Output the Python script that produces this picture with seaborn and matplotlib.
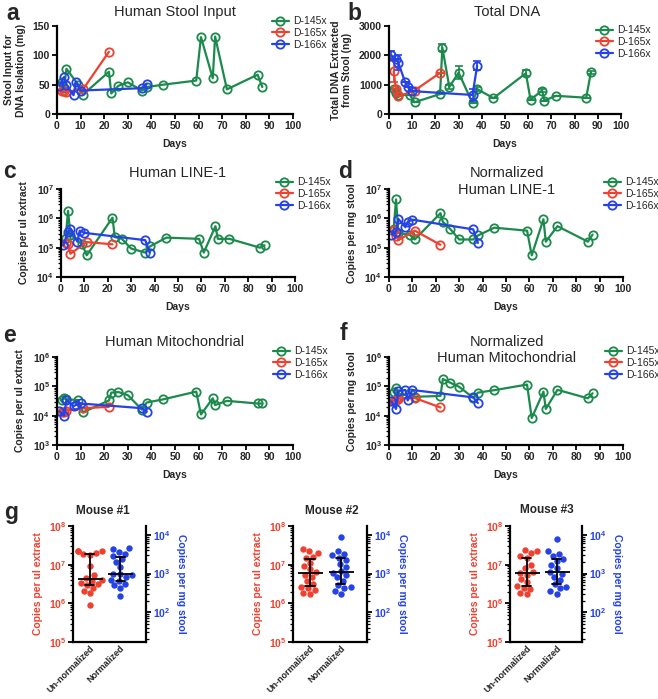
import numpy as np
import pandas as pd
import seaborn as sns
import matplotlib
matplotlib.use('Agg')
import matplotlib.pyplot as plt

sns.set_theme(style='ticks')
plt.rcParams['font.family'] = ['Liberation Sans', 'DejaVu Sans']
plt.rcParams['mathtext.fontset'] = 'custom'
plt.rcParams['mathtext.rm'] = 'Liberation Sans'
plt.rcParams['mathtext.bf'] = 'Liberation Sans:bold'
plt.rcParams['mathtext.default'] = 'bf'

W, H = 658, 699

green = '#1b8a4c'
red = '#ee4130'
blue = '#2442e6'

subjects = ['D-145x', 'D-165x', 'D-166x']
colors = [green, red, blue]

# sampling days per donor
days_145 = [2, 3, 4, 9, 11, 22, 23, 26, 30, 36, 38, 45, 59, 61, 66, 67, 72, 85, 87]
days_165 = [2, 3, 4, 11, 22]
days_166 = [1, 3, 4, 7, 8, 10, 36, 38]

# a - stool input (mg)
stool_145 = [55, 45, 77, 50, 33, 72, 35, 48, 54, 40, 46, 50, 57, 131, 61, 132, 42, 67, 46]
stool_165 = [39, 40, 38, 42, 106]
stool_166 = [48, 63, 50, 32, 55, 40, 44, 51]

# b - total DNA (ng) with error
dna_145 = [860, 720, 650, 650, 400, 680, 2260, 920, 1410, 370, 850, 540, 1390, 490, 800, 460, 620, 555, 1415]
dna_err_145 = [0, 0, 0, 0, 0, 0, 120, 80, 220, 0, 60, 0, 100, 0, 60, 0, 0, 0, 60]
dna_165 = [1450, 850, 600, 800, 1400]
dna_err_165 = [350, 0, 0, 0, 0]
dna_166 = [2000, 1870, 1750, 1080, 920, 780, 650, 1650]
dna_err_166 = [150, 0, 250, 0, 0, 0, 200, 150]

# c - LINE-1 copies per ul extract
line1_145 = [2.2e5, 1.8e6, 2.8e5, 1.3e5, 5.5e4, 1.05e6, 2.3e5, 2.0e5, 9.3e4, 6.8e4, 1.1e5,
             2.2e5, 2.0e5, 6.8e4, 5.4e5, 2.0e5, 2.0e5, 1.0e5, 1.2e5]
line1_165 = [1.5e5, 1.3e5, 6.2e4, 1.55e5, 1.3e5]
line1_166 = [1.2e5, 3.5e5, 4.5e5, 1.6e5, 3.8e5, 3.2e5, 1.8e5, 6.8e4]

# d - normalized LINE-1 copies per mg stool
nline1_145 = [4.5e5, 4.4e6, 3.2e5, 2.7e5, 1.9e5, 1.5e6, 7.6e5, 4.5e5, 1.9e5, 1.9e5, 2.6e5,
              4.8e5, 3.8e5, 5.5e4, 9.3e5, 1.6e5, 5.4e5, 1.6e5, 2.8e5]
nline1_165 = [4.0e5, 2.5e5, 1.8e5, 3.8e5, 1.25e5]
nline1_166 = [2.8e5, 3.5e5, 9.5e5, 5.0e5, 7.6e5, 9.0e5, 4.2e5, 1.45e5]

# e - mitochondrial copies per ul extract
mito_145 = [3.3e4, 3.9e4, 3.6e4, 3.4e4, 1.3e4, 3.3e4, 6.1e4, 6.4e4, 5.0e4, 1.6e4, 2.8e4,
            3.6e4, 6.6e4, 1.1e4, 3.9e4, 2.3e4, 3.2e4, 2.6e4, 2.6e4]
mito_165 = [1.3e4, 1.3e4, 1.5e4, 1.8e4, 2.0e4]
mito_166 = [1.4e4, 1.0e4, 3.5e4, 2.1e4, 2.3e4, 2.6e4, 1.8e4, 1.35e4]

# f - normalized mitochondrial copies per mg stool
nmito_145 = [6.2e4, 9.0e4, 4.4e4, 6.0e4, 4.4e4, 4.7e4, 1.78e5, 1.35e5, 9.6e4, 4.1e4, 6.1e4,
             7.4e4, 1.15e5, 8.3e3, 6.6e4, 1.7e4, 7.6e4, 3.9e4, 5.8e4]
nmito_165 = [3.2e4, 3.5e4, 3.8e4, 4.0e4, 1.9e4]
nmito_166 = [3.1e4, 1.7e4, 7.0e4, 7.5e4, 3.3e4, 7.5e4, 4.2e4, 2.7e4]

# g - mouse samples
cats = ['Un-normalized', 'Normalized']
mouse_titles = ['Mouse #1', 'Mouse #2', 'Mouse #3']
m1_raw = [2.3e7, 2.2e7, 2.2e7, 2.0e7, 1.9e7, 1.8e7, 9e6, 5.5e6, 4.5e6, 4e6, 3.8e6, 3.4e6,
          3.2e6, 3e6, 2.5e6, 2.1e6, 1.8e6, 9.3e5]
m1_norm = [4.6e3, 4.2e3, 3.6e3, 3.3e3, 2.8e3, 2.4e3, 2.0e3, 1.5e3, 1.0e3, 950, 900, 800,
           700, 650, 550, 500, 420, 270]
m2_raw = [2.5e7, 2.2e7, 2.0e7, 1.6e7, 1.5e7, 1.1e7, 9e6, 7.5e6, 6.5e6, 5.5e6, 4.8e6, 3.8e6,
          3.2e6, 2.6e6, 2.5e6, 2.2e6, 1.8e6, 1.75e6]
m2_norm = [9e3, 3.8e3, 3.3e3, 3.0e3, 2.6e3, 2.2e3, 1.8e3, 1.5e3, 1.2e3, 1.05e3, 900, 800,
           650, 500, 450, 420, 350, 300]
m3_raw = [2.4e7, 2.2e7, 2.0e7, 1.7e7, 1.5e7, 1.0e7, 8e6, 6.5e6, 6.2e6, 5.5e6, 4.2e6, 3.5e6,
          2.8e6, 2.5e6, 2.4e6, 1.8e6, 1.75e6]
m3_norm = [7.9e3, 3.8e3, 3.3e3, 2.9e3, 2.4e3, 2.1e3, 1.7e3, 1.4e3, 1.1e3, 1.0e3, 800, 700,
           550, 450, 420, 350, 300]


def px(x, y):
    return x / W, 1 - y / H


def box(left, right, top, bottom):
    return [left / W, 1 - bottom / H, (right - left) / W, (bottom - top) / H]


def style_axis(ax):
    for s in ['top', 'right']:
        ax.spines[s].set_visible(False)
    for s in ['left', 'bottom']:
        ax.spines[s].set_linewidth(1.6)
        ax.spines[s].set_color('black')
    ax.tick_params(which='major', length=3.5, width=1.3, labelsize=7.5, pad=1.5, color='black')
    ax.tick_params(which='minor', length=2, width=0.9, color='black')
    for lab in ax.get_xticklabels() + ax.get_yticklabels():
        lab.set_fontweight('bold')


fig = plt.figure(figsize=(W / 100, H / 100), dpi=100)


def time_panel(pos, series, ylabel, log_range=None, lin_ticks=None, errs=None, leg_xy=None):
    ax = fig.add_axes(pos)
    if log_range is not None:
        ax.set_yscale('log')
    for i, (name, c, d, v) in enumerate(series):
        if errs is not None:
            ax.errorbar(d, v, yerr=errs[i], fmt='none', ecolor=c, elinewidth=1.2,
                        capsize=3, capthick=1.2, zorder=2)
        sns.lineplot(x=d, y=v, ax=ax, color=c, marker='o', markersize=6,
                     markerfacecolor='none', markeredgecolor=c, markeredgewidth=1.3,
                     linewidth=1.6, label=name, estimator=None, errorbar=None)
    ax.set_xlim(0, 100)
    ax.set_xticks(range(0, 101, 10))
    if log_range is not None:
        ax.set_ylim(*log_range)
    else:
        ax.set_ylim(lin_ticks[0], lin_ticks[-1])
        ax.set_yticks(lin_ticks)
    ax.set_xlabel('Days', fontsize=7.5, fontweight='bold', labelpad=6)
    ax.set_ylabel(ylabel, fontsize=7.5, fontweight='bold', labelpad=5)
    style_axis(ax)
    ax.legend(loc='center left', bbox_to_anchor=px(*leg_xy), bbox_transform=fig.transFigure,
              frameon=False, fontsize=7.5, handlelength=1.6, handletextpad=0.4,
              labelspacing=0.15, borderpad=0, borderaxespad=0)
    return ax


time_panel(box(57, 293, 26, 114),
           [(subjects[0], green, days_145, stool_145), (subjects[1], red, days_165, stool_165),
            (subjects[2], blue, days_166, stool_166)],
           'Stool Input for\nDNA Isolation (mg)', lin_ticks=[0, 50, 100, 150], leg_xy=(272, 33))

time_panel(box(389, 621, 26, 114),
           [(subjects[0], green, days_145, dna_145), (subjects[1], red, days_165, dna_165),
            (subjects[2], blue, days_166, dna_166)],
           'Total DNA Extracted\nfrom Stool (ng)', lin_ticks=[0, 1000, 2000, 3000],
           errs=[dna_err_145, dna_err_165, dna_err_166], leg_xy=(596, 42))

time_panel(box(61, 295, 189, 277),
           [(subjects[0], green, days_145, line1_145), (subjects[1], red, days_165, line1_165),
            (subjects[2], blue, days_166, line1_166)],
           'Copies per ul extract', log_range=(1e4, 1e7), leg_xy=(276, 194))

time_panel(box(389, 623, 189, 277),
           [(subjects[0], green, days_145, nline1_145), (subjects[1], red, days_165, nline1_165),
            (subjects[2], blue, days_166, nline1_166)],
           'Copies per mg stool', log_range=(1e4, 1e7), leg_xy=(604, 194))

time_panel(box(57, 293, 357, 445),
           [(subjects[0], green, days_145, mito_145), (subjects[1], red, days_165, mito_165),
            (subjects[2], blue, days_166, mito_166)],
           'Copies per ul extract', log_range=(1e3, 1e6), leg_xy=(273, 363))

time_panel(box(389, 623, 357, 445),
           [(subjects[0], green, days_145, nmito_145), (subjects[1], red, days_165, nmito_165),
            (subjects[2], blue, days_166, nmito_166)],
           'Copies per mg stool', log_range=(1e3, 1e6), leg_xy=(605, 363))

# panel titles
for txt, (x, y) in [('Human Stool Input', (175, 12)), ('Total DNA', (507, 12)),
                    ('Human LINE-1', (178, 173)), ('Normalized', (507, 173)),
                    ('Human LINE-1', (507, 190)), ('Human Mitochondrial', (175, 342)),
                    ('Normalized', (507, 342)), ('Human Mitochondrial', (507, 358))]:
    fig.text(*px(x, y), txt, ha='center', va='center', fontsize=10.5)

# panel letters
for letter, (x, y) in [('a', (13, 13)), ('b', (354, 13)), ('c', (10, 172)), ('d', (345, 171)),
                       ('e', (10, 336)), ('f', (343, 334)), ('g', (11, 512))]:
    fig.text(*px(x, y), letter, ha='center', va='center', fontsize=16.5, fontweight='bold')

# g panels
mouse_boxes = [box(73, 146, 526, 642), box(293, 367, 526, 642), box(510, 582, 526, 642)]
mouse_title_xy = [(103, 511), (332, 511), (547, 510)]
mouse_data = [(m1_raw, m1_norm), (m2_raw, m2_norm), (m3_raw, m3_norm)]

for pos, title, txy, (raw, norm) in zip(mouse_boxes, mouse_titles, mouse_title_xy, mouse_data):
    ax = fig.add_axes(pos)
    ax2 = ax.twinx()
    df_raw = pd.DataFrame({'kind': cats[0], 'copies': raw})
    df_norm = pd.DataFrame({'kind': cats[1], 'copies': norm})
    for a, df, c in [(ax, df_raw, red), (ax2, df_norm, blue)]:
        sns.swarmplot(data=df, x='kind', y='copies', order=cats, color=c, size=4.6,
                      log_scale=True, ax=a, zorder=2)
        sns.pointplot(data=df, x='kind', y='copies', order=cats, estimator='median',
                      errorbar=('pi', 50), color='black', markers='_', linestyles='none',
                      markersize=18, markeredgewidth=1.3, capsize=0.3,
                      err_kws={'linewidth': 1.3}, log_scale=True, ax=a)
        for coll in a.collections:
            coll.set_zorder(2)
        for ln in a.lines:
            ln.set_zorder(3)
    ax.set_ylim(1e5, 1e8)
    ax2.set_ylim(17, 17000)
    ax.set_xlim(-0.55, 1.85)
    style_axis(ax)
    ax2.tick_params(which='major', length=3.5, width=1.3, labelsize=7.5, pad=1.5, color='black')
    ax2.tick_params(which='minor', length=2, width=0.9, color='black')
    for s in ['top', 'left', 'bottom']:
        ax2.spines[s].set_visible(False)
    ax2.spines['right'].set_linewidth(1.6)
    ax2.spines['right'].set_color('black')
    ax.tick_params(axis='y', labelcolor=red)
    ax2.tick_params(axis='y', labelcolor=blue)
    for lab in ax2.get_yticklabels():
        lab.set_fontweight('bold')
    ax.set_xticks([0, 1])
    ax.set_xticklabels(cats, rotation=45, ha='right', rotation_mode='anchor',
                       fontsize=6.5, fontweight='bold')
    ax.tick_params(axis='x', length=0, pad=1)
    ax.set_xlabel('')
    ax2.set_xlabel('')
    ax.set_ylabel('Copies per ul extract', color=red, fontsize=7.5, fontweight='bold', labelpad=4)
    ax2.set_ylabel('Copies per mg stool', color=blue, fontsize=7.5, fontweight='bold',
                   rotation=270, va='bottom', labelpad=4)
    fig.text(*px(*txy), title, ha='center', va='center', fontsize=8.5, fontweight='bold')

fig.savefig('out.png', dpi=100)
